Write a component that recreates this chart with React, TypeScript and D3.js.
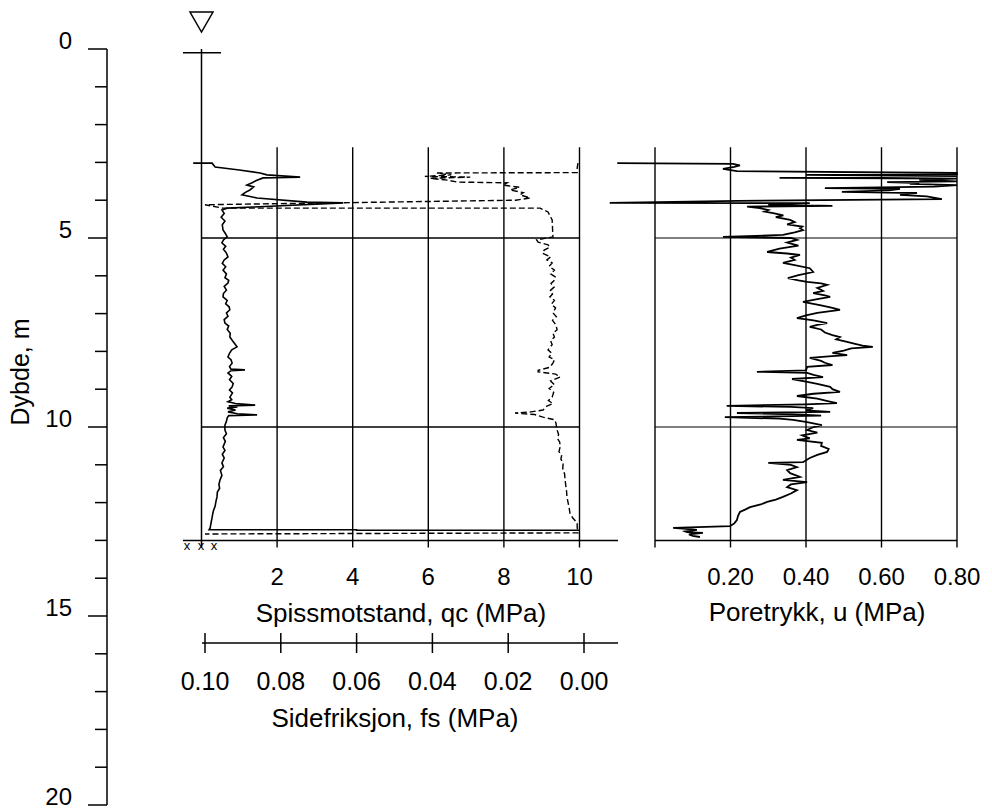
import React, { useEffect, useRef } from 'react';
import * as d3 from 'd3';

// [dybde (m), qc (MPa)] lest av figuren
const qcData: [number, number][] = [
    [3.02, -0.22], [3.02, 0.28], [3.12, 0.36], [3.2, 1.0], [3.28, 1.55], [3.33, 1.73], [3.39, 2.61], [3.41, 1.63],
    [3.48, 1.45], [3.54, 1.34], [3.6, 1.2], [3.65, 1.38], [3.73, 1.28], [3.8, 1.15], [3.86, 1.07], [3.94, 1.47],
    [4.05, 2.79], [4.07, 3.75], [4.18, 1.36], [4.21, 0.68], [4.26, 0.54], [4.35, 0.6], [4.45, 0.52], [4.55, 0.62],
    [4.65, 0.55], [4.79, 0.57], [4.88, 0.63], [4.97, 0.68], [5.05, 0.58], [5.13, 0.54], [5.22, 0.64], [5.3, 0.58],
    [5.4, 0.66], [5.5, 0.7], [5.58, 0.6], [5.67, 0.55], [5.76, 0.64], [5.85, 0.57], [5.95, 0.66], [6.05, 0.62],
    [6.12, 0.72], [6.19, 0.7], [6.28, 0.6], [6.38, 0.66], [6.47, 0.58], [6.56, 0.57], [6.65, 0.68], [6.74, 0.64],
    [6.82, 0.73], [6.9, 0.75], [6.98, 0.66], [7.07, 0.7], [7.16, 0.6], [7.25, 0.62], [7.33, 0.72], [7.42, 0.68],
    [7.52, 0.76], [7.62, 0.75], [7.72, 0.82], [7.8, 0.88], [7.88, 0.94], [7.96, 0.8], [8.05, 0.74], [8.15, 0.7],
    [8.22, 0.78], [8.31, 0.81], [8.4, 0.74], [8.47, 0.78], [8.49, 1.15], [8.51, 0.78], [8.57, 0.7], [8.66, 0.8],
    [8.75, 0.74], [8.85, 0.84], [8.94, 0.81], [9.02, 0.74], [9.1, 0.82], [9.21, 0.75], [9.28, 0.8], [9.33, 0.7],
    [9.38, 0.9], [9.42, 1.42], [9.44, 0.72], [9.47, 0.95], [9.5, 0.68], [9.55, 0.9], [9.6, 0.7], [9.65, 0.95],
    [9.68, 1.47], [9.7, 0.72], [9.76, 0.68], [9.85, 0.66], [9.95, 0.62], [10.08, 0.62], [10.18, 0.66], [10.28, 0.58],
    [10.38, 0.63], [10.53, 0.57], [10.62, 0.62], [10.72, 0.55], [10.82, 0.6], [10.95, 0.54], [11.05, 0.58], [11.15, 0.5],
    [11.28, 0.54], [11.4, 0.49], [11.52, 0.46], [11.62, 0.48], [11.72, 0.42], [11.85, 0.41], [11.98, 0.38], [12.1, 0.36],
    [12.2, 0.32], [12.28, 0.3], [12.4, 0.28], [12.5, 0.26], [12.6, 0.24], [12.67, 0.23], [12.72, 0.2], [12.72, 4.1],
    [12.73, 4.1], [12.73, 10.0]
];

// [dybde (m), fs (MPa)]
const fsData: [number, number][] = [
    [3.02, 0.0016], [3.15, 0.0018], [3.27, 0.0018], [3.28, 0.0388], [3.33, 0.035], [3.37, 0.042], [3.39, 0.03],
    [3.42, 0.0406], [3.47, 0.036], [3.52, 0.0335], [3.54, 0.0203], [3.6, 0.0214], [3.66, 0.017], [3.73, 0.0195],
    [3.8, 0.016], [3.86, 0.0169], [3.94, 0.0142], [4.0, 0.018], [4.12, 0.1], [4.21, 0.0953], [4.21, 0.0116],
    [4.31, 0.0095], [4.52, 0.0084], [4.75, 0.0083], [4.97, 0.0082], [5.05, 0.0125], [5.11, 0.0121], [5.18, 0.0095],
    [5.24, 0.009], [5.32, 0.0105], [5.4, 0.011], [5.5, 0.0088], [5.58, 0.0098], [5.66, 0.0084], [5.75, 0.0092],
    [5.85, 0.0078], [5.95, 0.0088], [6.03, 0.0076], [6.11, 0.0077], [6.2, 0.0087], [6.3, 0.0079], [6.4, 0.009],
    [6.48, 0.0083], [6.56, 0.009], [6.65, 0.0078], [6.75, 0.0086], [6.85, 0.0075], [6.98, 0.0082], [7.08, 0.0073],
    [7.18, 0.0083], [7.3, 0.0074], [7.43, 0.0071], [7.52, 0.0082], [7.62, 0.0078], [7.72, 0.0088], [7.82, 0.0084],
    [7.96, 0.0095], [8.05, 0.0085], [8.15, 0.0092], [8.22, 0.0078], [8.31, 0.0082], [8.42, 0.009], [8.5, 0.0121],
    [8.54, 0.0121], [8.6, 0.0075], [8.68, 0.0063], [8.78, 0.0088], [8.88, 0.0078], [8.98, 0.0092], [9.08, 0.008],
    [9.21, 0.0084], [9.3, 0.0094], [9.38, 0.0082], [9.45, 0.0098], [9.55, 0.0108], [9.6, 0.014], [9.63, 0.0182],
    [9.67, 0.013], [9.74, 0.0108], [9.81, 0.0077], [9.9, 0.0074], [10.08, 0.0071], [10.2, 0.0067], [10.3, 0.007],
    [10.4, 0.0064], [10.53, 0.0063], [10.65, 0.0066], [10.75, 0.0059], [10.85, 0.0061], [10.95, 0.0055], [11.1, 0.0056],
    [11.25, 0.0051], [11.4, 0.005], [11.55, 0.0048], [11.7, 0.0046], [11.85, 0.0045], [12.0, 0.0042], [12.15, 0.0039],
    [12.28, 0.0037], [12.4, 0.003], [12.54, 0.0018], [12.65, 0.0018], [12.8, 0.0016], [12.83, 0.1]
];

// [dybde (m), u (MPa)]
const uData: [number, number][] = [
    [3.02, -0.1], [3.04, 0.207], [3.08, 0.225], [3.12, 0.21], [3.17, 0.18], [3.23, 0.217], [3.28, 0.8], [3.31, 0.8],
    [3.33, 0.4], [3.36, 0.8], [3.41, 0.33], [3.43, 0.8], [3.46, 0.7], [3.5, 0.8], [3.52, 0.615], [3.55, 0.7],
    [3.57, 0.675], [3.6, 0.8], [3.64, 0.74], [3.68, 0.45], [3.7, 0.649], [3.74, 0.62], [3.78, 0.495], [3.81, 0.694],
    [3.86, 0.649], [3.9, 0.72], [3.97, 0.76], [4.02, 0.217], [4.07, -0.12], [4.08, 0.41], [4.12, 0.3], [4.15, 0.47],
    [4.17, 0.244], [4.21, 0.278], [4.26, 0.3], [4.3, 0.29], [4.34, 0.313], [4.4, 0.34], [4.45, 0.32], [4.52, 0.358],
    [4.58, 0.37], [4.64, 0.35], [4.7, 0.39], [4.74, 0.384], [4.79, 0.392], [4.85, 0.37], [4.92, 0.339], [4.97, 0.18],
    [5.0, 0.36], [5.05, 0.376], [5.12, 0.35], [5.2, 0.38], [5.28, 0.33], [5.37, 0.297], [5.41, 0.35], [5.45, 0.384],
    [5.52, 0.36], [5.58, 0.37], [5.66, 0.339], [5.72, 0.37], [5.8, 0.41], [5.9, 0.419], [5.98, 0.38], [6.06, 0.352],
    [6.12, 0.38], [6.16, 0.403], [6.2, 0.44], [6.24, 0.456], [6.32, 0.43], [6.4, 0.445], [6.46, 0.419], [6.52, 0.45],
    [6.56, 0.464], [6.62, 0.43], [6.69, 0.392], [6.78, 0.44], [6.85, 0.47], [6.9, 0.49], [6.98, 0.43], [7.05, 0.4],
    [7.12, 0.376], [7.18, 0.42], [7.25, 0.456], [7.3, 0.43], [7.35, 0.41], [7.42, 0.44], [7.5, 0.45], [7.57, 0.47],
    [7.62, 0.49], [7.68, 0.48], [7.75, 0.509], [7.8, 0.53], [7.85, 0.55], [7.88, 0.577], [7.92, 0.52], [7.98, 0.5],
    [8.04, 0.47], [8.1, 0.509], [8.13, 0.46], [8.17, 0.41], [8.25, 0.44], [8.3, 0.45], [8.36, 0.47], [8.41, 0.403],
    [8.5, 0.4], [8.54, 0.27], [8.57, 0.403], [8.62, 0.42], [8.68, 0.445], [8.73, 0.363], [8.8, 0.4], [8.86, 0.43],
    [8.94, 0.464], [9.0, 0.47], [9.07, 0.49], [9.12, 0.42], [9.18, 0.376], [9.25, 0.43], [9.32, 0.46], [9.37, 0.482],
    [9.4, 0.4], [9.44, 0.19], [9.47, 0.36], [9.5, 0.419], [9.56, 0.4], [9.6, 0.464], [9.63, 0.217], [9.67, 0.39],
    [9.7, 0.44], [9.74, 0.185], [9.78, 0.33], [9.81, 0.366], [9.87, 0.403], [9.95, 0.442], [10.0, 0.42], [10.08, 0.403],
    [10.15, 0.43], [10.22, 0.39], [10.3, 0.41], [10.34, 0.376], [10.42, 0.442], [10.5, 0.44], [10.58, 0.46], [10.66, 0.456],
    [10.74, 0.43], [10.82, 0.41], [10.93, 0.392], [10.95, 0.3], [11.0, 0.36], [11.06, 0.376], [11.14, 0.35], [11.22, 0.358],
    [11.32, 0.384], [11.4, 0.339], [11.46, 0.403], [11.52, 0.36], [11.59, 0.35], [11.67, 0.376], [11.76, 0.36], [11.85, 0.339],
    [11.92, 0.32], [11.98, 0.297], [12.05, 0.28], [12.12, 0.252], [12.18, 0.24], [12.25, 0.225], [12.35, 0.22], [12.46, 0.217],
    [12.55, 0.21], [12.62, 0.199], [12.67, 0.048], [12.7, 0.09], [12.72, 0.111], [12.76, 0.08], [12.78, 0.085], [12.8, 0.127],
    [12.84, 0.09], [12.88, 0.1], [12.91, 0.119]
];

const depthMajor = [0, 5, 10, 15, 20];
const depthMinor = [1, 2, 3, 4, 6, 7, 8, 9, 11, 12, 13, 14, 16, 17, 18, 19];
const gridDepths = [5, 10];
const qcTicks = [0, 2, 4, 6, 8, 10];
const qcLabels = ['', '2', '4', '6', '8', '10'];
const fsTicks = [0.1, 0.08, 0.06, 0.04, 0.02, 0];
const uTicks = [0, 0.2, 0.4, 0.6, 0.8];
const uLabels = ['', '0.20', '0.40', '0.60', '0.80'];

const FONT = '"Liberation Sans", Arial, sans-serif';

export default function App() {
    const ref = useRef<SVGSVGElement>(null);

    useEffect(() => {
        const svg = d3.select(ref.current);
        svg.selectAll('*').remove();

        const y = d3.scaleLinear().domain([0, 20]).range([49, 805]);
        const qcX = d3.scaleLinear().domain([0, 10]).range([201.5, 579.5]);
        const fsX = d3.scaleLinear().domain([0.1, 0]).range([205, 584]);
        const uX = d3.scaleLinear().domain([0, 0.8]).range([655, 957]);
        const gridTop = y(2.6), axisY = y(13);
        const fsAxisY = 643;

        const g = svg.append('g').attr('stroke', '#000').attr('fill', 'none');

        // dybdeakse
        g.append('line').attr('x1', 107).attr('x2', 107).attr('y1', y(0)).attr('y2', y(20)).attr('stroke-width', 1.5);
        g.selectAll('.maj').data(depthMajor).enter().append('line')
            .attr('x1', 88).attr('x2', 107).attr('y1', d => y(d)).attr('y2', d => y(d)).attr('stroke-width', 1.5);
        g.selectAll('.min').data(depthMinor).enter().append('line')
            .attr('x1', 95).attr('x2', 107).attr('y1', d => y(d)).attr('y2', d => y(d)).attr('stroke-width', 1.5);

        // terreng / grunnvann
        g.append('line').attr('x1', 201.5).attr('x2', 201.5).attr('y1', y(0)).attr('y2', axisY + 7).attr('stroke-width', 1.5);
        g.append('line').attr('x1', 183).attr('x2', 221).attr('y1', y(0.1)).attr('y2', y(0.1)).attr('stroke-width', 1.5);
        g.append('path').attr('d', 'M190,12 L213,12 L201.5,32 Z').attr('stroke-width', 1.5);

        // rutenett qc
        g.selectAll('.qcg').data(qcTicks.slice(1)).enter().append('line')
            .attr('x1', d => qcX(d)).attr('x2', d => qcX(d)).attr('y1', gridTop).attr('y2', axisY + 7).attr('stroke-width', 1.4);
        g.selectAll('.qch').data(gridDepths).enter().append('line')
            .attr('x1', qcX(0)).attr('x2', qcX(10)).attr('y1', d => y(d)).attr('y2', d => y(d)).attr('stroke-width', 1.4);
        g.append('line').attr('x1', 183).attr('x2', 618).attr('y1', axisY).attr('y2', axisY).attr('stroke-width', 1.5);

        // rutenett u
        g.selectAll('.ug').data(uTicks).enter().append('line')
            .attr('x1', d => uX(d)).attr('x2', d => uX(d)).attr('y1', gridTop).attr('y2', axisY + 7).attr('stroke-width', 1.4);
        g.selectAll('.uh').data(gridDepths).enter().append('line')
            .attr('x1', uX(0)).attr('x2', uX(0.8)).attr('y1', d => y(d)).attr('y2', d => y(d)).attr('stroke-width', 1.2);
        g.append('line').attr('x1', uX(0)).attr('x2', uX(0.8)).attr('y1', axisY).attr('y2', axisY).attr('stroke-width', 1.5);

        // fs-akse
        g.append('line').attr('x1', 202).attr('x2', 618).attr('y1', fsAxisY).attr('y2', fsAxisY).attr('stroke-width', 1.5);
        g.selectAll('.fst').data(fsTicks).enter().append('line')
            .attr('x1', d => fsX(d)).attr('x2', d => fsX(d)).attr('y1', fsAxisY - 10).attr('y2', fsAxisY + 10).attr('stroke-width', 1.5);

        // kurver
        const qcLine = d3.line<[number, number]>().x(d => qcX(d[1])).y(d => y(d[0]));
        const fsLine = d3.line<[number, number]>().x(d => fsX(d[1])).y(d => y(d[0]));
        const uLine = d3.line<[number, number]>().x(d => uX(d[1])).y(d => y(d[0]));

        g.append('path').attr('d', fsLine(fsData)).attr('stroke-width', 1.4).attr('stroke-dasharray', '6,3');
        g.append('path').attr('d', qcLine(qcData)).attr('stroke-width', 1.6);
        g.append('path').attr('d', uLine(uData)).attr('stroke-width', 1.8);

        // tekst
        const t = svg.append('g').attr('font-family', FONT).attr('fill', '#000');
        t.selectAll('.dl').data(depthMajor).enter().append('text')
            .attr('x', 72).attr('y', d => y(d)).attr('text-anchor', 'end').attr('font-size', 24).text(d => d);
        t.append('text').attr('transform', 'translate(29,372) rotate(-90)').attr('text-anchor', 'middle')
            .attr('font-size', 25).text('Dybde, m');

        t.selectAll('.ql').data(qcTicks).enter().append('text')
            .attr('x', d => qcX(d)).attr('y', 585).attr('text-anchor', 'middle').attr('font-size', 24)
            .text((d, i) => qcLabels[i]);
        t.append('text').attr('x', 401).attr('y', 622).attr('text-anchor', 'middle').attr('font-size', 26)
            .text('Spissmotstand, qc (MPa)');

        t.selectAll('.ul').data(uTicks).enter().append('text')
            .attr('x', d => uX(d)).attr('y', 585).attr('text-anchor', 'middle').attr('font-size', 24)
            .text((d, i) => uLabels[i]);
        t.append('text').attr('x', 817).attr('y', 621).attr('text-anchor', 'middle').attr('font-size', 26)
            .text('Poretrykk, u (MPa)');

        t.selectAll('.fl').data(fsTicks).enter().append('text')
            .attr('x', d => fsX(d)).attr('y', 690).attr('text-anchor', 'middle').attr('font-size', 25)
            .text(d => d3.format('.2f')(d));
        t.append('text').attr('x', 395).attr('y', 727).attr('text-anchor', 'middle').attr('font-size', 26)
            .text('Sidefriksjon, fs (MPa)');

        // xxx under qc-aksen
        t.selectAll('.xx').data([187, 201, 214]).enter().append('text')
            .attr('x', d => d).attr('y', axisY + 10).attr('text-anchor', 'middle').attr('font-size', 13).text('x');
    }, []);

    return (
        <div style={{ position: 'absolute', left: 0, top: 0 }}>
            <svg ref={ref} width={992} height={810} style={{ display: 'block', background: '#fff' }} />
        </div>
    );
}
